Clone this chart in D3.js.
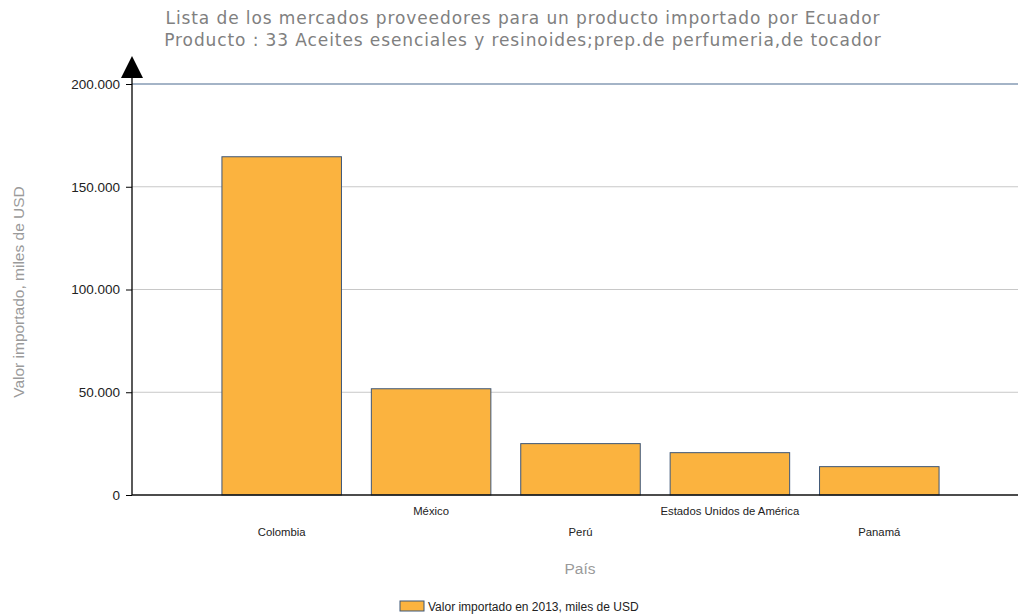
<!DOCTYPE html>
<html>
<head>
<meta charset="utf-8">
<script src="https://cdn.jsdelivr.net/npm/d3@7"></script>
<style>
  body { margin: 0; background: #fff; }
  svg { display: block; }
</style>
</head>
<body>
<svg id="chart" width="1022" height="614"></svg>
<script>
const countries = ['Colombia', 'México', 'Perú', 'Estados Unidos de América', 'Panamá'];
const values = [164600, 51700, 25000, 20600, 13800];
const yTicks = [0, 50000, 100000, 150000, 200000];
const titleLines = [
  'Lista de los mercados proveedores para un producto importado por Ecuador',
  'Producto : 33 Aceites esenciales y resinoides;prep.de perfumeria,de tocador'
];
const seriesName = 'Valor importado en 2013, miles de USD';

const svg = d3.select('#chart');
const axisLeftX = 132, axisRightX = 1018;
const plotTop = 84, plotBottom = 495;

const x = d3.scaleBand().domain(countries).range([207, 954]).paddingInner(0.2).paddingOuter(0.1);
const y = d3.scaleLinear().domain([0, 200000]).range([plotBottom, plotTop]);
const fmt = v => d3.format(',')(v).replace(/,/g, '.');

// Title
svg.append('g').selectAll('text')
  .data(titleLines)
  .join('text')
  .attr('x', 523)
  .attr('y', (d, i) => 24 + i * 22)
  .attr('text-anchor', 'middle')
  .attr('font-family', 'DejaVu Sans, Verdana, sans-serif')
  .attr('font-size', 17)
  .attr('letter-spacing', 0.9)
  .attr('fill', '#808080')
  .text(d => d);

// Gridlines
svg.append('g').selectAll('line')
  .data(yTicks.filter(d => d > 0))
  .join('line')
  .attr('x1', axisLeftX).attr('x2', axisRightX)
  .attr('y1', d => y(d)).attr('y2', d => y(d))
  .attr('stroke', d => d === 200000 ? '#4a6a90' : '#c8c8c8')
  .attr('stroke-width', d => d === 200000 ? 1.2 : 1);

// Bars
svg.append('g').selectAll('rect')
  .data(countries)
  .join('rect')
  .attr('x', d => x(d))
  .attr('width', x.bandwidth())
  .attr('y', (d, i) => y(values[i]))
  .attr('height', (d, i) => y(0) - y(values[i]))
  .attr('fill', '#fbb33f')
  .attr('stroke', '#3d5677')
  .attr('stroke-width', 1);

// Y axis
const yAxis = svg.append('g')
  .attr('transform', `translate(${axisLeftX},0)`)
  .call(d3.axisLeft(y).tickValues(yTicks).tickFormat(fmt).tickSize(6).tickSizeOuter(0));
yAxis.select('.domain').remove();
yAxis.selectAll('text')
  .attr('font-family', 'Liberation Sans, Arial, sans-serif')
  .attr('font-size', 13.5)
  .attr('fill', '#222')
  .attr('dx', -3);
yAxis.selectAll('line').attr('stroke', '#000');

svg.append('line')
  .attr('x1', axisLeftX).attr('x2', axisLeftX)
  .attr('y1', 76).attr('y2', plotBottom)
  .attr('stroke', '#000').attr('stroke-width', 1.3);
svg.append('path')
  .attr('d', `M${axisLeftX - 11},78 L${axisLeftX + 11},78 L${axisLeftX},56 Z`)
  .attr('fill', '#000');

// X axis
svg.append('line')
  .attr('x1', axisLeftX).attr('x2', axisRightX)
  .attr('y1', plotBottom).attr('y2', plotBottom)
  .attr('stroke', '#111').attr('stroke-width', 1.3);

svg.append('g').selectAll('text')
  .data(countries)
  .join('text')
  .attr('x', d => x(d) + x.bandwidth() / 2)
  .attr('y', (d, i) => i % 2 === 0 ? 536 : 515)
  .attr('text-anchor', 'middle')
  .attr('font-family', 'Liberation Sans, Arial, sans-serif')
  .attr('font-size', 11.3)
  .attr('fill', '#222')
  .text(d => d);

// Axis titles
svg.append('text')
  .attr('transform', 'translate(24,292) rotate(-90)')
  .attr('text-anchor', 'middle')
  .attr('font-family', 'Liberation Sans, Arial, sans-serif')
  .attr('font-size', 15.5)
  .attr('fill', '#9a9a9a')
  .text('Valor importado, miles de USD');

svg.append('text')
  .attr('x', 580).attr('y', 574)
  .attr('text-anchor', 'middle')
  .attr('font-family', 'Liberation Sans, Arial, sans-serif')
  .attr('font-size', 15.5)
  .attr('fill', '#9a9a9a')
  .text('País');

// Legend
const legend = svg.append('g').attr('transform', 'translate(400,601)');
legend.append('rect')
  .attr('width', 24).attr('height', 10)
  .attr('fill', '#fbb33f').attr('stroke', '#3d5677');
legend.append('text')
  .attr('x', 28).attr('y', 9.5)
  .attr('font-family', 'Liberation Sans, Arial, sans-serif')
  .attr('font-size', 12)
  .attr('fill', '#222')
  .text(seriesName);
</script>
</body>
</html>
